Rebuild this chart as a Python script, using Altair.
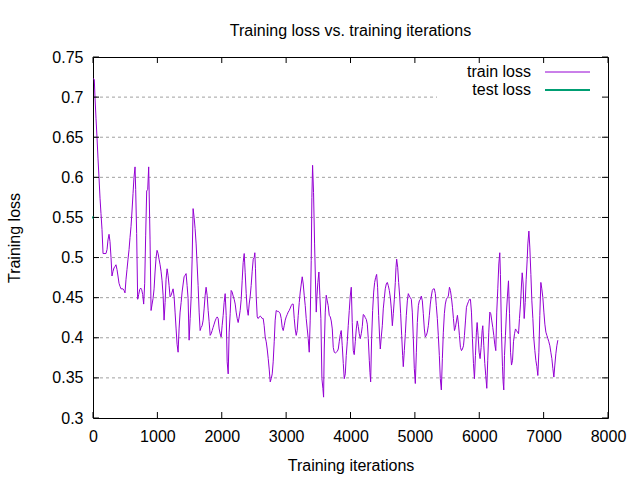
import altair as alt
import pandas as pd

# ---------------- data ----------------
iters = [
    0, 20, 31, 47, 62, 78, 93, 109, 124, 140, 156, 171, 187, 202, 218, 233, 249, 264, 280, 295,
    311, 326, 342, 357, 373, 388, 404, 420, 435, 451, 466, 482, 497, 513, 528, 544, 560, 575, 591, 606,
    622, 637, 653, 663, 678, 694, 710, 725, 741, 756, 772, 787, 803, 818, 834, 850, 865,
    886, 902, 918, 933, 949, 964, 980, 995, 1011, 1026, 1042, 1057, 1073, 1089, 1104, 1120, 1135, 1151,
    1166, 1182, 1197, 1213, 1229, 1244, 1260, 1275, 1291, 1306, 1322, 1337, 1353, 1369, 1384, 1400,
    1415, 1431, 1446, 1462, 1477, 1493, 1509, 1524, 1540, 1555, 1571, 1586, 1602, 1617, 1633, 1649,
    1664, 1680, 1695, 1711, 1726, 1742, 1757, 1773, 1789, 1804, 1820,
    1835, 1851, 1866, 1882, 1897, 1913, 1929, 1944, 1960, 1975, 1991, 2006, 2022, 2037, 2053, 2069,
    2084, 2100, 2115, 2131, 2146, 2162, 2177, 2193, 2209, 2224, 2240, 2255, 2271, 2286, 2302, 2317,
    2333, 2349, 2364, 2380, 2395, 2411, 2426, 2442, 2457, 2473, 2489, 2504, 2514, 2524, 2535, 2551,
    2566, 2582, 2597, 2613, 2628, 2644, 2659, 2675, 2691, 2706, 2722, 2737,
    2753, 2768, 2784, 2799, 2815, 2830, 2846, 2861, 2877, 2892, 2908, 2924, 2939, 2955, 2970, 2986,
    3001, 3017, 3032, 3048, 3064, 3079, 3095, 3110, 3126, 3141, 3157, 3172, 3188, 3204, 3219, 3235,
    3250, 3266, 3281, 3297, 3312, 3328, 3343, 3359, 3374, 3390, 3400, 3411, 3426, 3442, 3457, 3468,
    3478, 3493, 3509, 3524, 3540, 3556, 3571, 3582, 3592, 3608, 3623, 3639, 3654,
    3670, 3686, 3701, 3717, 3732, 3748, 3763, 3779, 3794, 3810, 3825, 3841, 3856, 3872, 3888, 3903,
    3919, 3934, 3950, 3965, 3981, 3996, 4012, 4027, 4043, 4058, 4074, 4090, 4105, 4121, 4136, 4152,
    4167, 4183, 4198, 4214, 4230, 4245, 4261, 4276, 4292, 4302, 4313, 4328, 4344, 4360, 4375, 4390,
    4406, 4421, 4437, 4452, 4463, 4478, 4494, 4509, 4525, 4540, 4556, 4572, 4587,
    4603, 4619, 4634, 4650, 4665, 4681, 4696, 4707, 4717, 4733, 4748, 4764, 4779, 4795, 4810, 4820,
    4836, 4852, 4867, 4883, 4898, 4914, 4929, 4945, 4960, 4976, 4991, 5007, 5023, 5038, 5054, 5069,
    5085, 5100, 5116, 5131, 5147, 5162, 5178, 5193, 5209, 5225, 5240, 5256, 5271, 5287, 5302, 5318,
    5333, 5349, 5364, 5380, 5395, 5411, 5427, 5442, 5458, 5473, 5489, 5504, 5520,
    5537, 5552, 5568, 5584, 5599, 5615, 5630, 5646, 5661, 5677, 5692, 5708, 5724, 5739, 5755, 5770,
    5786, 5801, 5817, 5832, 5848, 5863, 5879, 5894, 5910, 5925, 5941, 5956, 5967, 5982, 5998, 6013,
    6029, 6045, 6055, 6071, 6086, 6101, 6117, 6132, 6148, 6164, 6179, 6195, 6210, 6226, 6241, 6257,
    6272, 6288, 6304, 6319, 6329, 6345, 6361, 6371, 6381, 6392, 6407, 6423, 6438,
    6454, 6470, 6486, 6501, 6517, 6532, 6548, 6563, 6579, 6594, 6610, 6625, 6641, 6657, 6667, 6682,
    6698, 6714, 6729, 6745, 6755, 6771, 6786, 6802, 6817, 6833, 6848, 6864, 6879, 6895, 6910, 6926,
    6941, 6957, 6972, 6988, 7004, 7019, 7035, 7050, 7066, 7081, 7097, 7112, 7128, 7143, 7159, 7174,
    7190, 7205, 7221,
]
loss = [
    0.723, 0.722, 0.700, 0.673, 0.650, 0.623, 0.600, 0.574, 0.555, 0.535, 0.505, 0.505, 0.505, 0.505, 0.510, 0.522, 0.529, 0.520, 0.500, 0.477,
    0.483, 0.487, 0.489, 0.491, 0.485, 0.477, 0.468, 0.464, 0.461, 0.461, 0.461, 0.459, 0.456, 0.473, 0.485, 0.498, 0.510, 0.525, 0.539, 0.558,
    0.580, 0.600, 0.613, 0.585, 0.530, 0.448, 0.454, 0.460, 0.462, 0.460, 0.454, 0.442, 0.468, 0.527, 0.583, 0.585, 0.613,
    0.523, 0.434, 0.442, 0.449, 0.461, 0.482, 0.500, 0.509, 0.505, 0.498, 0.491, 0.483, 0.471, 0.453, 0.422, 0.444, 0.473, 0.486,
    0.478, 0.465, 0.451, 0.453, 0.457, 0.461, 0.451, 0.432, 0.411, 0.392, 0.382, 0.411, 0.432, 0.444, 0.457, 0.467,
    0.476, 0.478, 0.480, 0.465, 0.449, 0.397, 0.424, 0.449, 0.498, 0.561, 0.550, 0.536, 0.517, 0.492, 0.465, 0.432,
    0.409, 0.413, 0.415, 0.422, 0.436, 0.453, 0.463, 0.453, 0.434, 0.420, 0.403,
    0.405, 0.409, 0.413, 0.417, 0.421, 0.424, 0.426, 0.424, 0.411, 0.405, 0.401, 0.415, 0.428, 0.444, 0.455, 0.428,
    0.370, 0.355, 0.407, 0.430, 0.459, 0.457, 0.452, 0.448, 0.442, 0.432, 0.424, 0.419, 0.426, 0.434, 0.448, 0.471,
    0.494, 0.505, 0.481, 0.455, 0.436, 0.428, 0.442, 0.452, 0.465, 0.483, 0.498, 0.500, 0.506, 0.486, 0.452, 0.426,
    0.424, 0.426, 0.427, 0.426, 0.424, 0.424, 0.415, 0.401, 0.395, 0.386, 0.374, 0.361,
    0.345, 0.349, 0.355, 0.370, 0.395, 0.422, 0.434, 0.433, 0.433, 0.432, 0.430, 0.424, 0.413, 0.409, 0.415, 0.422,
    0.426, 0.429, 0.432, 0.434, 0.437, 0.440, 0.442, 0.442, 0.424, 0.411, 0.403, 0.409, 0.428, 0.444, 0.457, 0.467,
    0.476, 0.467, 0.453, 0.440, 0.424, 0.411, 0.399, 0.382, 0.422, 0.496, 0.575, 0.615, 0.581, 0.517, 0.467, 0.432,
    0.451, 0.469, 0.482, 0.453, 0.424, 0.349, 0.337, 0.326, 0.386, 0.432, 0.453, 0.446, 0.440,
    0.428, 0.426, 0.421, 0.411, 0.388, 0.382, 0.381, 0.382, 0.383, 0.386, 0.395, 0.404, 0.409, 0.390, 0.368, 0.349,
    0.355, 0.378, 0.395, 0.415, 0.434, 0.452, 0.463, 0.419, 0.384, 0.379, 0.395, 0.411, 0.421, 0.414, 0.405, 0.399,
    0.405, 0.414, 0.429, 0.428, 0.425, 0.423, 0.417, 0.399, 0.372, 0.357, 0.345, 0.399, 0.434, 0.457, 0.469, 0.475,
    0.479, 0.463, 0.428, 0.401, 0.386, 0.401, 0.415, 0.436, 0.449, 0.461, 0.467, 0.469, 0.465,
    0.459, 0.450, 0.436, 0.415, 0.430, 0.448, 0.469, 0.488, 0.498, 0.488, 0.469, 0.452, 0.430, 0.403, 0.378, 0.364,
    0.384, 0.405, 0.428, 0.446, 0.455, 0.452, 0.450, 0.448, 0.432, 0.399, 0.362, 0.343, 0.382, 0.419, 0.440, 0.446,
    0.448, 0.452, 0.446, 0.430, 0.411, 0.401, 0.403, 0.407, 0.415, 0.428, 0.442, 0.452, 0.459, 0.461, 0.461, 0.455,
    0.440, 0.424, 0.403, 0.378, 0.349, 0.335, 0.374, 0.407, 0.430, 0.442, 0.448, 0.450, 0.452,
    0.463, 0.459, 0.450, 0.438, 0.424, 0.409, 0.413, 0.421, 0.428, 0.417, 0.403, 0.388, 0.384, 0.386, 0.390, 0.403,
    0.421, 0.438, 0.442, 0.445, 0.448, 0.448, 0.432, 0.399, 0.368, 0.349, 0.378, 0.407, 0.419, 0.403, 0.382, 0.374,
    0.388, 0.409, 0.415, 0.390, 0.368, 0.353, 0.337, 0.372, 0.407, 0.432, 0.430, 0.421, 0.413, 0.403, 0.392, 0.384,
    0.432, 0.461, 0.492, 0.506, 0.479, 0.407, 0.364, 0.345, 0.335, 0.378, 0.403, 0.432, 0.452,
    0.471, 0.430, 0.382, 0.366, 0.372, 0.395, 0.405, 0.411, 0.409, 0.407, 0.405, 0.424, 0.442, 0.467, 0.481, 0.467,
    0.424, 0.444, 0.473, 0.498, 0.517, 0.533, 0.512, 0.479, 0.446, 0.424, 0.399, 0.384, 0.372, 0.364, 0.353, 0.382,
    0.428, 0.469, 0.461, 0.450, 0.432, 0.417, 0.407, 0.403, 0.399, 0.395, 0.390, 0.382, 0.374, 0.362, 0.351, 0.366,
    0.380, 0.390, 0.397,
]
test_iters = [0]
test_loss = [0.55]

x_ticks = [0, 1000, 2000, 3000, 4000, 5000, 6000, 7000, 8000]
y_ticks = [0.3, 0.35, 0.4, 0.45, 0.5, 0.55, 0.6, 0.65, 0.7, 0.75]
grid_vals = [0.35, 0.4, 0.45, 0.5, 0.55, 0.6, 0.65, 0.7]
series = ["train loss", "test loss"]
series_colors = ["#9400d3", "#009e73"]
series_widths = [1, 2]

# ---------------- layout / style ----------------
W, H = 515, 361
FONT = "Liberation Sans"
FS = 16
TICK = 6

xs = alt.Scale(domain=[0, 8000], nice=False, zero=False)
ys = alt.Scale(domain=[0.3, 0.75], nice=False, zero=False)
axis_style = dict(grid=False, ticks=False, tickSize=0, domain=False,
                  labelFont=FONT, labelFontSize=FS, labelColor="black",
                  titleFont=FONT, titleFontSize=FS, titleColor="black", titleFontWeight="normal")
x_axis = alt.Axis(values=x_ticks, format="d", title="Training iterations",
                  labelPadding=10, titlePadding=13, labelFlush=False, **axis_style)
y_axis = alt.Axis(values=y_ticks, format=".2~f", title="Training loss",
                  labelPadding=10, titlePadding=29, **axis_style)

train_df = pd.DataFrame({"iteration": iters, "loss": loss})
test_df = pd.DataFrame({"iteration": test_iters, "loss": test_loss})
grid_df = pd.DataFrame({"loss": grid_vals})
ytick_df = pd.DataFrame({"loss": y_ticks})
xtick_df = pd.DataFrame({"iteration": x_ticks})

grid = alt.Chart(grid_df).mark_rule(color="#a0a0a0", strokeDash=[3, 3], strokeWidth=1).encode(
    y=alt.Y("loss:Q", scale=ys, axis=y_axis), x=alt.value(1), x2=alt.value(W - 1))

legend_bg = alt.Chart(pd.DataFrame({"k": [0]})).mark_rect(color="white").encode(
    x=alt.value(344), x2=alt.value(W - 1), y=alt.value(1), y2=alt.value(48))

train_line = alt.Chart(train_df).mark_line(color=series_colors[0], strokeWidth=1).encode(
    x=alt.X("iteration:Q", scale=xs, axis=x_axis),
    y=alt.Y("loss:Q", scale=ys, axis=y_axis))

test_line = alt.Chart(test_df).mark_line(color=series_colors[1], strokeWidth=2).encode(
    x=alt.X("iteration:Q", scale=xs, axis=x_axis),
    y=alt.Y("loss:Q", scale=ys, axis=y_axis))
test_pt = alt.Chart(test_df).mark_square(color=series_colors[1], size=4, opacity=1).encode(
    x=alt.X("iteration:Q", scale=xs, axis=x_axis),
    y=alt.Y("loss:Q", scale=ys, axis=y_axis))

tick_left = alt.Chart(ytick_df).mark_rule(color="black").encode(
    y=alt.Y("loss:Q", scale=ys, axis=y_axis), x=alt.value(0), x2=alt.value(TICK))
tick_right = alt.Chart(ytick_df).mark_rule(color="black").encode(
    y=alt.Y("loss:Q", scale=ys, axis=y_axis), x=alt.value(W - TICK), x2=alt.value(W))
tick_bottom = alt.Chart(xtick_df).mark_rule(color="black").encode(
    x=alt.X("iteration:Q", scale=xs, axis=x_axis), y=alt.value(H - TICK), y2=alt.value(H))
tick_top = alt.Chart(xtick_df).mark_rule(color="black").encode(
    x=alt.X("iteration:Q", scale=xs, axis=x_axis), y=alt.value(0), y2=alt.value(TICK))

legend_layers = []
for i, (name, col, sw) in enumerate(zip(series, series_colors, series_widths)):
    ly = 15 + 18 * i
    ldf = pd.DataFrame({"series": [name]})
    legend_layers.append(
        alt.Chart(ldf).mark_text(align="right", baseline="middle", font=FONT, fontSize=FS,
                                 color="black").encode(
            text="series:N", x=alt.value(438), y=alt.value(ly)))
    legend_layers.append(
        alt.Chart(ldf).mark_rule(color=col, strokeWidth=sw).encode(
            x=alt.value(452), x2=alt.value(497), y=alt.value(ly)))

chart = alt.layer(
    grid, legend_bg, train_line, test_line, test_pt,
    tick_left, tick_right, tick_bottom, tick_top, *legend_layers
).properties(
    width=W, height=H,
    background="white",
    autosize=alt.AutoSizeParams(type="none"),
    padding={"left": 93, "top": 57, "right": 32, "bottom": 62},
    title=alt.TitleParams("Training loss vs. training iterations", font=FONT, fontSize=FS,
                          fontWeight="normal", color="black", anchor="middle", offset=10),
).configure_view(
    stroke="black", strokeWidth=1
)

chart.save("out.html", embed_options={"renderer": "svg", "actions": False})
